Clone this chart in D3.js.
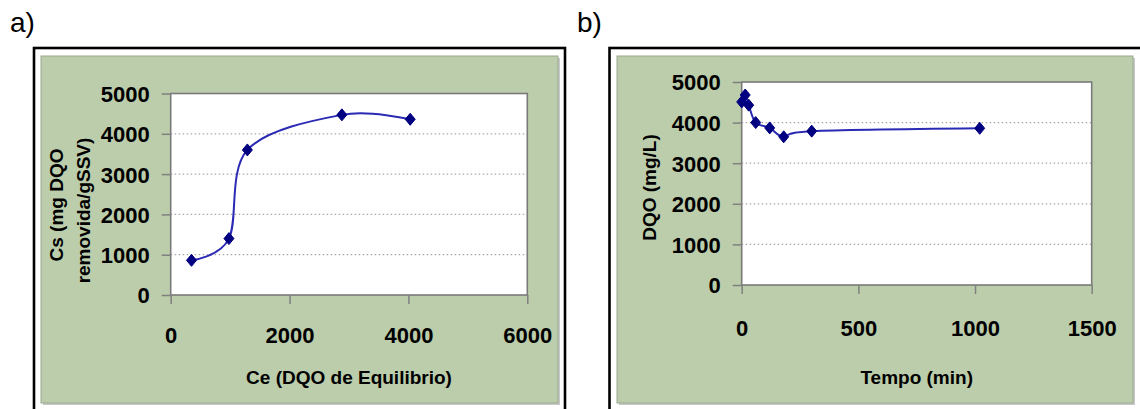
<!DOCTYPE html>
<meta charset="utf-8">
<style>
    body { margin: 0; background: #fff; }
    text { font-family: "Liberation Sans", Arial, sans-serif; }
    .tick text { font-size: 22px; font-weight: bold; fill: #000; }
    .tick line { stroke: #808080; stroke-width: 1.5; }
    .title { font-size: 19px; font-weight: bold; }
    .grid line { stroke: #a8a8a8; stroke-width: 1.2; stroke-dasharray: 1.5, 2.5; }
</style>
<svg width="1140" height="409"></svg>
<script src="https://cdn.jsdelivr.net/npm/d3@7"></script>
<script>
    // a) isoterma
    var ceValues = [350, 980, 1290, 2880, 4030];
    var csValues = [860, 1400, 3600, 4470, 4360];
    var xTicksA = [0, 2000, 4000, 6000];

    // b) cinética
    var tempoValues = [0, 15, 30, 60, 120, 180, 300, 1020];
    var dqoValues = [4510, 4680, 4430, 4000, 3870, 3650, 3790, 3860];
    var xTicksB = [0, 500, 1000, 1500];

    var yTicks = [0, 1000, 2000, 3000, 4000, 5000];

    var svg = d3.select("svg");

    var diamond = function (w, h) {
        return "M0," + (-h) + "L" + w + ",0L0," + h + "L" + (-w) + ",0Z";
    };

    var drawPanel = function (p) {
        var g = svg.append("g");

        // moldura preta
        g.append("rect")
            .attr("x", p.frame[0]).attr("y", p.frame[1])
            .attr("width", p.frame[2]).attr("height", p.frame[3])
            .attr("fill", "none").attr("stroke", "#000").attr("stroke-width", 2.6);

        // fundo verde com sombra
        g.append("rect")
            .attr("x", p.bg[0] + 2).attr("y", p.bg[1] + 2)
            .attr("width", p.bg[2]).attr("height", p.bg[3])
            .attr("fill", "#c8c8c8");
        g.append("rect")
            .attr("x", p.bg[0]).attr("y", p.bg[1])
            .attr("width", p.bg[2]).attr("height", p.bg[3])
            .attr("fill", "#bccdab").attr("stroke", "#9aa890").attr("stroke-width", 1);

        var x = d3.scaleLinear().domain(p.xDomain).range([p.left, p.right]);
        var y = d3.scaleLinear().domain([0, 5000]).range([p.bottom, p.top]);

        g.append("rect")
            .attr("x", p.left).attr("y", p.top)
            .attr("width", p.right - p.left).attr("height", p.bottom - p.top)
            .attr("fill", "#fff");

        g.append("g")
            .attr("class", "grid")
            .selectAll("line")
            .data([1000, 2000, 3000, 4000])
            .enter().append("line")
            .attr("x1", p.left).attr("x2", p.right)
            .attr("y1", function (d) { return y(d); })
            .attr("y2", function (d) { return y(d); });

        g.append("rect")
            .attr("x", p.left).attr("y", p.top)
            .attr("width", p.right - p.left).attr("height", p.bottom - p.top)
            .attr("fill", "none").attr("stroke", "#7a7a7a").attr("stroke-width", 1.6);

        var yAxis = g.append("g")
            .attr("transform", "translate(" + p.left + ",0)")
            .call(d3.axisLeft(y).tickValues(yTicks).tickSize(9).tickPadding(12).tickFormat(d3.format("d")));
        yAxis.select(".domain").remove();
        yAxis.selectAll("text").attr("dy", "0.36em");

        var xAxis = g.append("g")
            .attr("transform", "translate(0," + p.bottom + ")")
            .call(d3.axisBottom(x).tickValues(p.xTicks).tickSize(9).tickPadding(p.xPad).tickFormat(d3.format("d")));
        xAxis.select(".domain").remove();

        var pts = p.xs.map(function (v, i) { return [v, p.ys[i]]; });

        var line = d3.line()
            .x(function (d) { return x(d[0]); })
            .y(function (d) { return y(d[1]); })
            .curve(d3.curveCatmullRom.alpha(0));

        g.append("path")
            .datum(pts)
            .attr("d", line)
            .attr("fill", "none")
            .attr("stroke", "#2a2ab4")
            .attr("stroke-width", 2);

        g.selectAll(".pt")
            .data(pts)
            .enter().append("path")
            .attr("class", "pt")
            .attr("transform", function (d) { return "translate(" + x(d[0]) + "," + y(d[1]) + ")"; })
            .attr("d", diamond(5, 6))
            .attr("fill", "#000080")
            .attr("stroke", "#000080")
            .attr("stroke-width", 1);

        g.append("text")
            .attr("class", "title")
            .attr("x", (p.left + p.right) / 2)
            .attr("y", 384)
            .attr("text-anchor", "middle")
            .text(p.xTitle);

        p.yTitle.forEach(function (t) {
            g.append("text")
                .attr("class", "title")
                .attr("text-anchor", "middle")
                .attr("transform", "translate(" + t.x + "," + t.y + ") rotate(-90)")
                .text(t.text);
        });

        g.append("text")
            .attr("x", p.label[0]).attr("y", p.label[1])
            .attr("font-size", 28)
            .text(p.label[2]);
    };

    drawPanel({
        frame: [34, 48, 531, 400],
        bg: [41, 56, 517, 347],
        left: 170.7, right: 527.3, top: 93.5, bottom: 295,
        xDomain: [0, 6000], xTicks: xTicksA, xPad: 23,
        xs: ceValues, ys: csValues,
        xTitle: "Ce (DQO de Equilibrio)",
        yTitle: [
            { text: "Cs (mg DQO", x: 63, y: 205 },
            { text: "removida/gSSV)", x: 90, y: 210.5 }
        ],
        label: [10, 32, "a)"]
    });

    drawPanel({
        frame: [609.5, 48, 540, 400],
        bg: [617, 56, 516, 347],
        left: 741.7, right: 1091.7, top: 82, bottom: 285,
        xDomain: [0, 1500], xTicks: xTicksB, xPad: 26,
        xs: tempoValues, ys: dqoValues,
        xTitle: "Tempo (min)",
        yTitle: [
            { text: "DQO (mg/L)", x: 656, y: 187.5 }
        ],
        label: [577, 32, "b)"]
    });
</script>
